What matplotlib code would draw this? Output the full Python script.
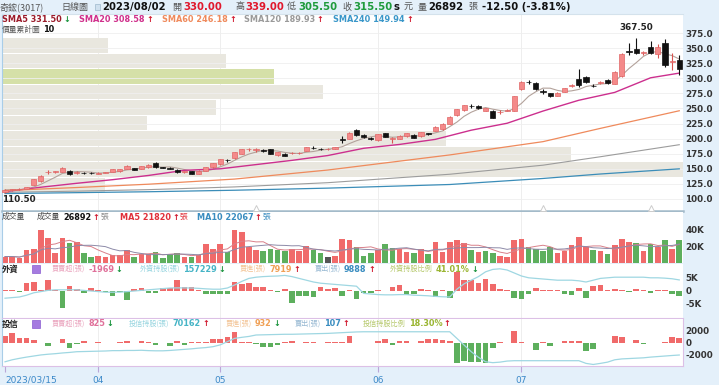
import numpy as np
import pandas as pd
import matplotlib
matplotlib.use("Agg")
import matplotlib.pyplot as plt
from matplotlib.patches import Rectangle

# ---------------- data ----------------
opens = [112, 115, 116, 117, 124, 130, 144.5, 145, 145, 146.5,
         143.5, 143.5, 143, 142, 143.5, 145, 146, 149.5, 151, 149.5,
         153, 159, 152.5, 151, 148, 145, 146.5, 142, 146.5, 153,
         157.5, 165, 167.5, 175, 182, 181.5, 180.5, 182.5, 173, 175,
         175.5, 176, 180, 184.5, 183, 182.5, 182.5, 199, 200, 214.5,
         206, 201, 197, 209, 200, 200, 204, 206, 204, 209,
         213, 216, 225, 239, 247.5, 254.5, 254, 246, 246, 244,
         246.5, 246, 282, 294.5, 292.5, 278.5, 275, 271, 278, 287,
         298, 301.5, 288, 292, 297, 291, 303, 344.5, 348, 341.5,
         351, 340, 358, 326.5, 330]
highs = [116, 117, 117.5, 120.5, 133.5, 139, 147.5, 147, 152.5, 148,
         146, 145, 144, 144, 145, 150, 150, 156, 152, 154.5,
         157.5, 161, 153, 153, 149, 147, 147, 147.5, 153.5, 159.5,
         166.5, 167, 178, 182.5, 184.5, 184, 182, 183, 178.5, 176,
         178, 178, 186, 187, 185, 184, 186.5, 204, 211, 216.5,
         207, 202, 207.5, 210, 203, 205.5, 209.5, 207, 211.5, 210,
         220.5, 225.5, 237, 249, 256, 258, 255, 251, 247, 247,
         249, 271, 295, 297, 294, 282, 276, 276.5, 284, 290,
         315, 303, 290, 295, 299, 312, 342, 358, 367.5, 345,
         362, 357, 364.5, 342, 339]
lows = [110.5, 114, 115, 116, 123, 128, 142, 143, 144, 140.5,
        142, 142, 141.5, 141, 142.5, 144.5, 145, 149, 148, 149,
        152, 152, 151, 149, 143.5, 143, 141, 141, 146, 152,
        157, 162, 167, 174, 179, 178, 178.5, 174, 172, 170.5,
        174, 175, 179.5, 182, 181, 181.5, 182, 192, 199, 205,
        201.5, 198.5, 196, 202.5, 193, 199, 203, 200.5, 203, 206.5,
        212, 215, 224, 238, 246, 250, 249.5, 245, 234, 241,
        245, 245, 280, 290, 281, 274, 269, 270, 277, 286,
        286, 293, 286, 291, 291, 290, 302, 338.5, 340, 339,
        340.5, 334, 318, 313.5, 305.5]
closes = [115, 116, 116, 119.5, 132.5, 137.5, 145.5, 145, 151.5, 141.5,
          144, 143, 142.3, 143, 144.5, 149, 149.5, 155, 148.5, 154,
          157, 152.5, 152, 150.5, 144, 145, 141.5, 147, 153, 159,
          166, 164.5, 177.5, 182, 182.3, 182.5, 179.5, 175, 178, 171,
          176, 177, 185.5, 184, 182.5, 182.5, 186, 198, 210, 206,
          202, 199, 207, 203, 200.5, 205, 209, 201, 211, 207,
          220, 225, 236.5, 248.5, 255, 254, 250, 250, 235, 244.5,
          248, 270.5, 294, 294, 282, 278, 270, 276, 283.5, 288.5,
          289.5, 294, 287, 293.5, 292, 311, 341, 344, 341.5, 344,
          341.5, 352, 322.5, 328, 315.5]

# volume in thousand lots, and its up(1)/down(-1)/flat(0) colouring
volume = [7.3, 7.3, 5.3, 15.4, 16.7, 40, 29.7, 11.4, 30, 24.4,
          25.2, 11.4, 6.5, 8.5, 6.5, 9.3, 9.3, 15.4, 7.3, 10.6,
          10.6, 13.4, 5.3, 10.6, 12.2, 7.3, 6.5, 9.3, 22, 16.7,
          22, 13, 40, 37.8, 19.5, 15.4, 13.8, 17, 15.4, 14.6,
          17, 14.6, 20, 15.4, 11.4, 7.3, 7.7, 28.5, 27.6, 19.5,
          8.5, 11.4, 15.4, 22, 18, 16.3, 13, 11.4, 16.7, 9.8,
          25.6, 13.4, 24.8, 28, 23.6, 15.4, 13.4, 14.6, 11.4, 8.5,
          7.3, 27.6, 28.9, 18.7, 16.3, 13.8, 18.7, 11.4, 14.6, 21.5,
          30.9, 18.7, 15.4, 14.6, 10.6, 21, 29, 25, 24, 14,
          22, 18.7, 27, 16.7, 26.892]
vol_dir = [1, 1, 1, 1, 1, 1, 1, 1, 1, -1,
           1, -1, -1, 1, 1, 1, 1, 1, -1, 1,
           1, -1, -1, -1, -1, 1, -1, 1, 1, 1,
           1, -1, 1, 1, 1, 1, -1, -1, -1, -1,
           1, 1, 1, -1, -1, 0, 1, 1, 1, -1,
           -1, -1, 1, -1, -1, 1, 1, -1, 1, -1,
           1, 1, 1, 1, 1, -1, 1, -1, -1, 1,
           1, 1, 1, -1, -1, -1, -1, 1, 1, 1,
           1, 1, -1, 1, -1, 1, 1, 1, -1, 1,
           -1, 1, -1, 1, -1]

# foreign investors: net buy (thousand lots) and holdings (thousand lots)
foreign_net = [0.1, 0.1, -0.4, 2.8, 3.3, 0.1, 3.8, 0.2, -6.6, 1.9,
               0.6, -0.9, 1.0, 0.4, -0.4, -2.1, -0.4, -3.4, 0.6, 1.0,
               -0.9, -0.9, 1.1, 1.0, 3.9, 1.2, 1.2, 0.4, -1.1, -1.1,
               -1.1, -1.1, 3.1, 2.5, 2.9, 1.4, 1.4, 0.4, -0.4, 0.6,
               -4.6, -2.1, -2.1, -2.4, 1.4, 0.6, 1.0, -1.9, 0.1, -3.1,
               -1.0, -1.0, 0.25, -0.1, 1.5, 2.1, -1.6, -1.2, 0.6, 0.1,
               -2.5, 0.1, -2.6, 7.1, 4.0, 4.0, 3.0, 4.2, 2.5, 0.5,
               0.1, -2.9, -3.1, -1.2, 0.9, 0.3, 0.1, 0.1, -1.2, -1.6,
               1.0, -2.6, 1.6, 2.2, 0.1, 0.5, 0.3, -0.5, 0.5, 0.3,
               -1.0, 0.2, 0.1, -1.2, -1.969]
foreign_hold = [142, 142.5, 143, 144.5, 146.5, 147.5, 148.5, 149, 149, 149,
                149, 148.5, 148, 147.5, 147, 147, 147, 147.5, 148, 148.5,
                149, 149.5, 150, 150.5, 150.6, 150.6, 150.5, 150.2, 149.8, 149.5,
                149.5, 150.5, 153, 156, 158.5, 159.5, 160, 160.3, 160.5, 161,
                160, 158.5, 157, 155.5, 154.5, 154, 153.5, 153, 152.5, 152,
                146, 145.5, 145, 144.8, 144.8, 145, 145, 144.5, 144.3, 144,
                143.5, 143.2, 143, 149.5, 154, 157, 160, 164, 166, 166.5,
                165.5, 163, 160.5, 159, 158.5, 158, 157.5, 157, 157, 157,
                156.5, 155.5, 157, 158.5, 159, 159.5, 159.5, 159.5, 159.5, 159.5,
                159, 159, 158.7, 158.2, 157.229]

# investment trusts: net buy (lots) and holdings (thousand lots)
trust_net = [1140, 1710, 740, 740, 455, 30, -570, 30, 570, -970,
             -230, 285, 30, 110, 20, -110, 110, 230, 20, 230,
             110, -455, 20, -570, 230, -340, 110, 110, 110, 680,
             680, 910, 1820, 110, 110, -230, -680, -680, -340, 170,
             285, -110, 110, 110, 20, 110, 110, 110, 1140, 20,
             30, 30, 285, 570, -400, 340, 340, 20, 230, 570,
             570, 455, 340, -3530, -3080, -3250, -3250, -3420, -970, 110,
             20, 2050, 110, 20, -1250, 60, -570, 20, 230, 340,
             340, -1370, -1140, 20, -110, 1140, 910, 20, 455, -230,
             20, 30, 110, 910, 825]
trust_hold = [66.4, 67.5, 68.3, 69, 69.6, 70.2, 70.6, 70.9, 71.3, 71.6,
              72, 72.1, 72.2, 72.3, 72.4, 72.6, 72.6, 72.7, 72.7, 72.8,
              72.6, 72.5, 72.5, 72.7, 73, 73.3, 73.6, 74, 74.3, 74.8,
              75.8, 77.6, 79.4, 80, 80.5, 81.3, 81.4, 81.5, 81.6, 81.7,
              81.7, 81.8, 81.9, 82, 82.1, 82.2, 82.4, 82.6, 82.8, 83,
              83.1, 83.1, 83.1, 83.1, 83.1, 83.1, 83.1, 83.1, 83.1, 83.1,
              83.1, 83.1, 83.1, 79.4, 75.7, 72, 68.9, 66.4, 65.9, 66.2,
              66.8, 67, 67, 67, 67, 67, 67, 67, 67, 67,
              67, 65.5, 64.9, 65.5, 66.2, 67.5, 68, 68.2, 68.4, 68.6,
              69, 69.3, 69.6, 69.9, 70.162]

# moving averages read at sample days
sma_days = [0, 5, 10, 15, 20, 25, 30, 35, 40, 45, 50, 55, 60, 65, 70, 75, 80, 85, 90, 94]
sma20 = [112, 119.5, 126, 132, 139, 147.5, 150, 157, 164, 172,
         184, 190.4, 198.8, 214, 225.5, 245.7, 263.6, 276.6, 300.8, 308.58]
long_days = [0, 10, 20, 32, 45, 62, 75, 83, 94]
sma60 = [114, 119, 124.5, 133, 148, 173, 195, 217, 246.18]
sma120 = [111, 113, 115.5, 120, 127, 141, 156, 170, 189.93]
sma240 = [109, 110.5, 112, 114.5, 118, 124, 134, 141.4, 149.94]

# price/volume profile, 10 bins from the low to the high (top bin first)
profile = [57, 120, 146, 172, 115, 78, 238, 305, 365, 55]
price_low, price_high = 110.5, 367.5

month_days = [0, 13, 30, 52, 72]
month_labels = ["2023/03/15", "04", "05", "06", "07"]
event_days = [35, 75, 90]

# ---------------- figure ----------------
W, H = 719, 385
BG = "#e4f0fa"
RED = "#f06a6a"
GREEN = "#5daf5d"
CJK = ["Noto Sans CJK TC", "DejaVu Sans"]
LAT = ["DejaVu Sans", "Noto Sans CJK TC"]
UPA, DNA = "#d0152b", "#16923a"

fig = plt.figure(figsize=(W / 100, H / 100), dpi=100, facecolor=BG)
renderer = fig.canvas.get_renderer()


def box(x0, y0, x1, y1):
    return fig.add_axes([x0 / W, 1 - y1 / H, (x1 - x0) / W, (y1 - y0) / H])


def put(x, y, s, c="#333333", bold=False, fs=6.0, fam=LAT, ha="left"):
    t = fig.text(x / W, 1 - y / H, s, color=c, fontsize=fs, ha=ha, va="center",
                 fontweight="bold" if bold else "normal", family=fam)
    return t.get_window_extent(renderer).x1


n = len(closes)
days = np.arange(n)
XL = (-0.42, n - 0.55)

o = np.array(opens); h = np.array(highs); l = np.array(lows); c = np.array(closes)


def style(ax, lo, hi, ticks, labels):
    ax.set_xlim(*XL)
    ax.set_ylim(lo, hi)
    ax.set_facecolor("white")
    ax.yaxis.tick_right()
    ax.set_yticks(ticks)
    ax.set_yticklabels(labels, fontsize=6.3, fontweight="bold", color="#333333")
    ax.tick_params(axis="y", length=0, pad=2)
    ax.set_xticks([])
    for s in ax.spines.values():
        s.set_visible(False)
    ax.spines["left"].set_visible(True)
    ax.spines["left"].set_color("#a9cde8")
    for d in month_days[1:]:
        ax.axvline(d, color="#eeeeee", lw=0.7, zorder=0.5)


def holdings(ax, values, lo, hi):
    tw = ax.twinx()
    tw.set_ylim(lo, hi)
    tw.plot(days, values, color="#9fd7e2", lw=0.9)
    tw.axis("off")
    ax.yaxis.tick_right()      # twinx moves the host ticks to the left
    ax.tick_params(axis="y", length=0, pad=2)


# ---- price panel ----
axp = box(2, 14, 682.5, 211)
pticks = np.arange(100, 376, 25)
style(axp, 80.1, 406.5, pticks, [f"{v:.1f}" for v in pticks])
for v in pticks:
    axp.axhline(v, color="#efefef", lw=0.6, zorder=1.5)
axp.spines["bottom"].set_visible(True)
axp.spines["bottom"].set_color("#a3bac9")
axp.spines["bottom"].set_linewidth(1.8)
axp.spines["top"].set_visible(True)
axp.spines["top"].set_color("#d4e2ec")

edges = np.linspace(price_low, price_high, len(profile) + 1)[::-1]
centers = (edges[:-1] + edges[1:]) / 2
bin_h = edges[0] - edges[1]
span = XL[1] - XL[0]
for cen, top, bot, v in zip(centers, edges[:-1], edges[1:], profile):
    col = "#d5e0a8" if bot <= closes[-1] < top else "#e9e7df"
    axp.barh(cen, v / max(profile) * span, left=XL[0], height=bin_h * 0.94,
             color=col, lw=0, zorder=1)

axp.plot(days, pd.Series(closes).rolling(5, min_periods=1).mean(), color="#b3a29b", lw=0.8, zorder=3)
axp.plot(sma_days, sma20, color="#cc2f8e", lw=1.0, zorder=3)
axp.plot(long_days, sma60, color="#ef8a5c", lw=0.9, zorder=3)
axp.plot(long_days, sma120, color="#9c9c9c", lw=0.8, zorder=3)
axp.plot(long_days, sma240, color="#3b8db8", lw=0.9, zorder=3)

up = c >= o
axp.vlines(days, l, h, color=np.where(up, "#d9534f", "#111111"), lw=0.8, zorder=4)
body = np.maximum(np.abs(c - o), 0.6)
axp.bar(days, body, bottom=np.minimum(o, c), width=0.72,
        color=np.where(up, "#f48a8a", "#111111"),
        edgecolor=np.where(up, "#e06666", "#111111"), lw=0.5, zorder=5)

imax = int(np.argmax(h))
axp.annotate(f"{h[imax]:.2f}", (imax, h[imax]), xytext=(0, 4), textcoords="offset points",
             ha="center", va="bottom", fontsize=6.3, fontweight="bold", color="#222222")
imin = int(np.argmin(l))
axp.annotate(f"{l[imin]:.2f}", (imin, l[imin]), xytext=(-2, -2), textcoords="offset points",
             ha="left", va="top", fontsize=6.3, fontweight="bold", color="#222222")
axp.plot(event_days, [85] * len(event_days), ls="none", marker="^", ms=4,
         mfc="white", mec="#cccccc", mew=0.7, zorder=6)

# ---- volume panel ----
axv = box(2, 212, 682.5, 263)
style(axv, -0.6, 61.6, [20, 40], ["20K", "40K"])
vcol = ["#555555" if d == 0 else (RED if d > 0 else GREEN) for d in vol_dir]
axv.bar(days, volume, width=0.78, color=vcol, lw=0, zorder=2)
vs = pd.Series(volume)
axv.plot(days, vs.rolling(5, min_periods=1).mean(), color="#d9808a", lw=0.7, zorder=3)
axv.plot(days, vs.rolling(10, min_periods=1).mean(), color="#8d8aa8", lw=0.7, zorder=3)

# ---- foreign investors panel ----
axf = box(2, 264, 682.5, 318)
style(axf, -10.3, 10.0, [-5, 0, 5], ["-5K", "0", "5K"])
axf.spines["bottom"].set_visible(True)
axf.spines["bottom"].set_color("#dcc0e6")
fn = np.array(foreign_net)
axf.bar(days, fn, width=0.78, color=np.where(fn >= 0, RED, GREEN), lw=0, zorder=2)
holdings(axf, foreign_hold, 125.5, 170.5)

# ---- investment trust panel ----
axt = box(2, 319, 682.5, 366)
style(axt, -3980, 4050, [-2000, 0, 2000], ["-2000", "0", "2000"])
for side in ("bottom", "right"):
    axt.spines[side].set_visible(True)
    axt.spines[side].set_color("#dcc0e6")
tn = np.array(trust_net)
axt.bar(days, tn, width=0.78, color=np.where(tn >= 0, RED, GREEN), lw=0, zorder=2)
holdings(axt, trust_hold, 64.05, 90.2)

# month labels under the last panel
axt.set_xticks(month_days)
axt.set_xticklabels(month_labels, fontsize=6.5, color="#3a88c8")
axt.tick_params(axis="x", length=4, color="#b9a6d8", pad=3)
axt.get_xticklabels()[0].set_ha("left")

# ---------------- header texts ----------------
fig.patches.append(Rectangle((0, 1 - 14 / H), 1, 14 / H, transform=fig.transFigure,
                             fc=BG, ec="none", zorder=-1))
put(0, 7, "奇鋐(3017)", "#555555", fs=6.5, fam=CJK)
put(61, 7, "日線圖", "#555555", fs=6.5, fam=CJK)
fig.patches.append(Rectangle((95 / W, 1 - 10 / H), 5 / W, 6 / H, transform=fig.transFigure,
                             fc="#cfe0ee", ec="#9db8cc", lw=0.5))
put(102, 7, "2023/08/02", "#111111", True, 7.3)
put(172, 7, "開", "#555555", fs=6.5, fam=CJK)
put(183, 7, "330.00", "#e0182d", True, 7.3)
put(235, 7, "高", "#555555", fs=6.5, fam=CJK)
put(245, 7, "339.00", "#e0182d", True, 7.3)
put(287, 7, "低", "#555555", fs=6.5, fam=CJK)
put(298, 7, "305.50", "#1e9b3c", True, 7.3)
put(342, 7, "收", "#555555", fs=6.5, fam=CJK)
put(353, 7, "315.50", "#1e9b3c", True, 7.3)
put(394, 7, "s", "#111111", True, 7.3)
put(404, 7, "元", "#555555", fs=6.5, fam=CJK)
put(418, 7, "量", "#555555", fs=6.5, fam=CJK)
put(428, 7, "26892", "#111111", True, 7.3)
put(468, 7, "張", "#555555", fs=6.5, fam=CJK)
put(482, 7, "-12.50 (-3.81%)", "#111111", True, 7.3)

sma_row = [(2, "SMA5 331.50", "#9b1b2a", False),
           (79, "SMA20 308.58", "#d0308c", True),
           (162, "SMA60 246.18", "#ef8a5c", True),
           (244, "SMA120 189.93", "#9a9a9a", True),
           (333, "SMA240 149.94", "#3a97c9", True)]
for x, s, col, rising in sma_row:
    end = put(x, 20, s, col, True, 5.9)
    put(end + 1.5, 20, "↑" if rising else "↓", UPA if rising else DNA, True, 5.9)
end = put(2, 29.5, "價量累計圖", "#555555", fs=5.6, fam=CJK)
put(end + 2, 29.5, "10", "#111111", True, 5.9)

# volume row
put(2, 217, "成交量", "#444444", fs=5.6, fam=CJK)
vol_row = [(37, "成交量", "26892", "#444444", "#111111", "#888888"),
           (120, None, "MA5 21820", None, "#e0303a", "#e0303a"),
           (197, None, "MA10 22067", None, "#3a8dc0", "#3a8dc0")]
for x, lab, val, lc, vc, zc in vol_row:
    if lab:
        x = put(x, 217, lab, lc, fs=5.6, fam=CJK) + 3
    x = put(x, 217, val, vc, True, 5.9) + 1
    x = put(x, 217, "↑", UPA, True, 5.9) + 1
    put(x, 217, "張", zc, fs=5.6, fam=CJK)


def chip_row(y, name, items):
    put(2, y, name, "#222222", True, 6.0, CJK)
    fig.patches.append(Rectangle((32 / W, 1 - (y + 4) / H), 8 / W, 8 / H,
                                 transform=fig.transFigure, fc="#a57be0", ec="#8a5cd0", lw=0.5))
    for x, lab, lc, val, vc, upward in items:
        x = put(x, y, lab, lc, fs=5.1, fam=CJK) + 3
        x = put(x, y, val, vc, True, 5.9) + 1.5
        put(x, y, "↑" if upward else "↓", UPA if upward else DNA, True, 5.9)


chip_row(269, "外資", [
    (52, "買賣超(張)", "#eaa3bd", "-1969", "#e0709a", False),
    (140, "外資持股(張)", "#95d4df", "157229", "#46b4c6", False),
    (240, "買進(張)", "#f3c394", "7919", "#f0a055", True),
    (315, "賣出(張)", "#96b8d2", "9888", "#3a8dc0", True),
    (390, "外資持股比例", "#b5c86a", "41.01%", "#9ab531", False)])
chip_row(324, "投信", [
    (52, "買賣超(張)", "#eaa3bd", "825", "#e0709a", False),
    (129, "投信持股(張)", "#95d4df", "70162", "#46b4c6", True),
    (226, "買進(張)", "#f3c394", "932", "#f0a055", False),
    (295, "賣出(張)", "#96b8d2", "107", "#3a8dc0", True),
    (363, "投信持股比例", "#b5c86a", "18.30%", "#9ab531", True)])

fig.savefig("out.png", dpi=100, facecolor=fig.get_facecolor())
